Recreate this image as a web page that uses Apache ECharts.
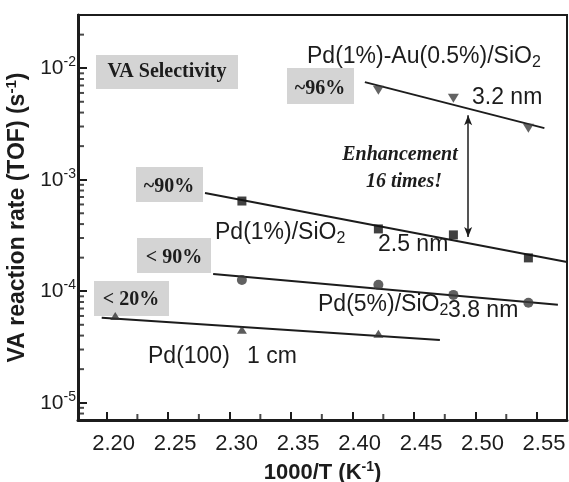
<!DOCTYPE html>
<html lang="en">
<head>
<meta charset="UTF-8">
<title>VA reaction rate</title>
<style>
  html, body { margin: 0; padding: 0; background: #fff; }
  #main { width: 569px; height: 482px; }
</style>
</head>
<body>
<div id="main"></div>
<script src="https://cdn.jsdelivr.net/npm/echarts@6/dist/echarts.min.js"></script>
<script>
  // axis ranges
  var xMin = 2.1767, xMax = 2.5744;
  var yMin = 7e-6, yMax = 0.03;
  var xMinorTicks = [2.225, 2.275, 2.325, 2.375, 2.425, 2.475, 2.525];

  // Pd(1%)-Au(0.5%)/SiO2  3.2 nm
  var pdAuX = [2.421, 2.482, 2.543];
  var pdAuY = [6.35e-3, 5.39e-3, 2.90e-3];
  var pdAuFitX = [2.410, 2.556];
  var pdAuFitY = [7.5e-3, 2.90e-3];

  // Pd(1%)/SiO2  2.5 nm
  var pd1X = [2.310, 2.421, 2.482, 2.543];
  var pd1Y = [6.44e-4, 3.62e-4, 3.20e-4, 1.99e-4];
  var pd1FitX = [2.280, 2.5744];
  var pd1FitY = [7.6e-4, 1.83e-4];

  // Pd(5%)/SiO2  3.8 nm
  var pd5X = [2.310, 2.421, 2.482, 2.543];
  var pd5Y = [1.26e-4, 1.14e-4, 9.27e-5, 7.87e-5];
  var pd5FitX = [2.2866, 2.567];
  var pd5FitY = [1.43e-4, 7.55e-5];

  // Pd(100)  1 cm
  var pd100X = [2.207, 2.310, 2.421];
  var pd100Y = [6.01e-5, 4.51e-5, 4.15e-5];
  var pd100FitX = [2.196, 2.471];
  var pd100FitY = [5.77e-5, 3.66e-5];

  // "Enhancement 16 times!" arrow
  var arrowX = 2.494;
  var arrowY = [3.79e-3, 3.07e-4];

  function pts(xs, ys) {
    return xs.map(function (x, i) { return [x, ys[i]]; });
  }

  // minor ticks of the log axis (2..9 in every decade)
  var yMinorTicks = [];
  for (var e = -6; e <= -2; e++) {
    for (var m = 2; m <= 9; m++) {
      var v = m * Math.pow(10, e);
      if (v > yMin * 1.0001 && v < yMax * 0.9999) yMinorTicks.push(v);
    }
  }

  var SANS = "'Liberation Sans', Arial, sans-serif";
  var SERIF = "'Liberation Serif', 'Times New Roman', serif";
  var INK = '#1c1c1c';

  var myChart = echarts.init(document.getElementById('main'));

  function box(x, y, w, h) {
    return { type: 'rect', shape: { x: x, y: y, width: w, height: h }, style: { fill: '#d4d4d4' }, z: 1 };
  }
  function serifText(txt, x, y, italic) {
    return {
      type: 'text', z: 2,
      style: {
        text: txt, x: x, y: y, align: 'center', verticalAlign: 'middle',
        fontFamily: SERIF, fontWeight: 'bold', fontStyle: italic ? 'italic' : 'normal',
        fontSize: 20, fill: INK
      }
    };
  }
  var subRich = {
    n: { fontFamily: SANS, fontSize: 23, fill: INK },
    sub: { fontFamily: SANS, fontSize: 16, fill: INK, padding: [12, 0, 0, 0] }
  };
  function sansText(txt, x, y) {
    return {
      type: 'text', z: 2,
      style: {
        text: txt, x: x, y: y, align: 'left', verticalAlign: 'middle',
        fontFamily: SANS, fontSize: 23, fill: INK, rich: subRich
      }
    };
  }

  myChart.setOption({
    animation: false,
    backgroundColor: '#fff',
    grid: {
      left: 78, right: 2, top: 15, bottom: 62,
      show: true, borderColor: INK, borderWidth: 2, backgroundColor: 'transparent',
      containLabel: false, outerBoundsMode: 'none'
    },
    xAxis: {
      type: 'value',
      min: xMin, max: xMax,
      splitNumber: 7, minInterval: 0.05, maxInterval: 0.05,
      name: '1000/T (K{sup|-1})',
      nameLocation: 'middle', nameGap: 38,
      nameTextStyle: {
        fontFamily: SANS, fontWeight: 'bold', fontSize: 22, color: INK,
        rich: { sup: { fontFamily: SANS, fontWeight: 'bold', fontSize: 14, color: INK, padding: [0, 0, 12, 0] } }
      },
      axisLine: { lineStyle: { color: INK, width: 3 } },
      axisTick: { show: true, inside: true, length: 8, lineStyle: { color: INK, width: 2 } },
      splitLine: { show: false },
      axisLabel: {
        margin: 13, fontFamily: SANS, fontSize: 22, color: INK,
        padding: [0, 0, 0, 14],
        formatter: function (v) {
          var k = v / 0.05;
          if (Math.abs(k - Math.round(k)) > 1e-6) return '';
          return v.toFixed(2);
        }
      }
    },
    yAxis: {
      type: 'log',
      min: yMin, max: yMax,
      name: 'VA reaction rate (TOF) (s{sup|-1})',
      nameLocation: 'middle', nameGap: 42,
      nameTextStyle: {
        fontFamily: SANS, fontWeight: 'bold', fontSize: 23, color: INK,
        rich: { sup: { fontFamily: SANS, fontWeight: 'bold', fontSize: 15, color: INK, padding: [0, 0, 12, 0] } }
      },
      axisLine: { show: true, lineStyle: { color: INK, width: 3 } },
      axisTick: { show: true, inside: true, length: 9, lineStyle: { color: INK, width: 2 } },
      splitLine: { show: false },
      axisLabel: {
        margin: 2,
        formatter: function (v) {
          var ex = Math.log10(v);
          if (Math.abs(ex - Math.round(ex)) > 1e-6) return '';
          return '{b|10}{s|' + Math.round(ex) + '}';
        },
        rich: {
          b: { fontFamily: SANS, fontSize: 21, color: INK },
          s: { fontFamily: SANS, fontSize: 14, color: INK, padding: [0, 0, 12, 0] }
        }
      }
    },
    graphic: [
      box(96, 55, 142, 34), serifText('VA Selectivity', 167, 72),
      box(287, 68, 67, 36), serifText('~96%', 320, 89),
      box(136, 167, 67, 35), serifText('~90%', 169, 187),
      box(137, 238, 74, 35), serifText('< 90%', 174, 258),
      box(94, 281, 75, 35), serifText('< 20%', 131, 300),
      serifText('Enhancement', 400, 155, true),
      serifText('16 times!', 404, 182, true),
      sansText('{n|Pd(1%)-Au(0.5%)/SiO}{sub|2}', 307, 57),
      sansText('3.2 nm', 472, 98),
      sansText('{n|Pd(1%)/SiO}{sub|2}', 215, 233),
      sansText('2.5 nm', 378, 245),
      sansText('{n|Pd(5%)/SiO}{sub|2}', 318, 305),
      sansText('3.8 nm', 448, 311),
      sansText('Pd(100)', 148, 357),
      sansText('1 cm', 247, 357)
    ],
    series: [
      { type: 'line', data: pts(pdAuFitX, pdAuFitY), showSymbol: false, lineStyle: { color: INK, width: 2 } },
      { type: 'line', data: pts(pd1FitX, pd1FitY), showSymbol: false, lineStyle: { color: INK, width: 2 } },
      { type: 'line', data: pts(pd5FitX, pd5FitY), showSymbol: false, lineStyle: { color: INK, width: 2 } },
      { type: 'line', data: pts(pd100FitX, pd100FitY), showSymbol: false, lineStyle: { color: INK, width: 2 } },
      { type: 'scatter', data: pts(pdAuX, pdAuY), symbol: 'triangle', symbolRotate: 180, symbolSize: [11, 9], itemStyle: { color: '#3c3c3c' }, z: 3 },
      { type: 'scatter', data: pts(pd1X, pd1Y), symbol: 'rect', symbolSize: 9, itemStyle: { color: '#111' }, z: 3 },
      { type: 'scatter', data: pts(pd5X, pd5Y), symbol: 'circle', symbolSize: 10, itemStyle: { color: '#3a3a3a' }, z: 3 },
      { type: 'scatter', data: pts(pd100X, pd100Y), symbol: 'triangle', symbolSize: [10, 8], itemStyle: { color: '#333' }, z: 3 },
      {
        type: 'line', data: [],
        markLine: {
          silent: true, symbol: ['arrow', 'arrow'], symbolSize: [6, 10],
          label: { show: false },
          lineStyle: { type: 'solid', color: INK, width: 1.5 },
          data: [[{ coord: [arrowX, arrowY[0]] }, { coord: [arrowX, arrowY[1]] }]]
        }
      },
      // minor ticks drawn as small bars sitting on the axes
      {
        type: 'scatter', silent: true, clip: false, z: 4,
        symbol: 'rect', symbolSize: [6, 2], symbolOffset: [3, 0],
        itemStyle: { color: INK },
        data: yMinorTicks.map(function (v) { return [xMin, v]; })
      },
      {
        type: 'scatter', silent: true, clip: false, z: 4,
        symbol: 'rect', symbolSize: [2, 6], symbolOffset: [0, -3],
        itemStyle: { color: INK },
        data: xMinorTicks.map(function (v) { return [v, yMin]; })
      }
    ]
  });
</script>
</body>
</html>
